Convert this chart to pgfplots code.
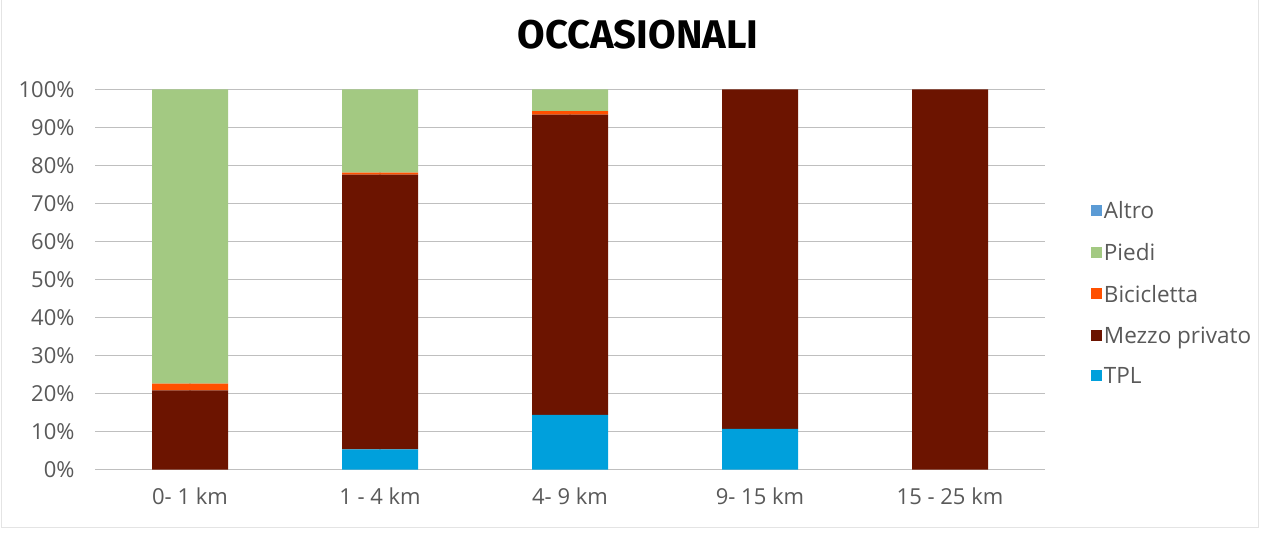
\documentclass[border=0pt]{standalone}
\usepackage{pgfplots}
\pgfplotsset{compat=1.18}
\usepackage{fontspec}
\setmainfont{Open Sans}
\newfontfamily\titlefont{Fira Sans}
\definecolor{tpl}{RGB}{0,160,220}
\definecolor{mezzo}{RGB}{108,20,0}
\definecolor{bici}{RGB}{255,80,0}
\definecolor{piedi}{RGB}{163,201,130}
\definecolor{altro}{RGB}{91,155,213}
\definecolor{txt}{RGB}{89,89,89}
\definecolor{grid}{RGB}{217,217,217}
\begin{document}
\begin{tikzpicture}[x=1pt,y=1pt]
\fill[white] (0,0) rectangle (1262,544);
\draw[grid!70,line width=1pt] (1.5,544) -- (1.5,17) -- (1258,17) -- (1258,544);
\begin{axis}[
  at={(95pt,75pt)}, anchor=south west,
  scale only axis, width=950pt, height=380pt,
  xmin=-0.5, xmax=4.5, ymin=0, ymax=100,
  ybar stacked, bar width=76pt,
  xtick={0,1,2,3,4},
  xticklabels={0- 1 km, 1 - 4 km, 4- 9 km, 9- 15 km, 15 - 25 km},
  ytick={0,10,...,100},
  yticklabel={\pgfmathprintnumber{\tick}\%},
  /pgf/number format/assume math mode=true,
  ymajorgrids, grid style={grid, line width=1.2pt},
  axis lines=left, axis line style={draw=none},
  major tick length=0pt,
  tick label style={font=\fontsize{22}{25}\selectfont, text=txt},
  yticklabel style={xshift=-17pt},
  xticklabel style={yshift=-15pt},
  legend style={at={(1.045,0.463)}, anchor=west, draw=none, fill=none,
    font=\fontsize{22.5}{25}\selectfont, text=txt, row sep=19pt,
    /tikz/every even column/.append style={column sep=0pt}},
  legend cell align=left,
  legend image code/.code={\fill[#1] (0pt,-5pt) rectangle (11pt,6pt);},
  reverse legend,
]
\addplot[fill=tpl, draw=none] coordinates {(0,0) (1,5.3) (2,14.4) (3,10.7) (4,0)};
\addlegendentry{TPL}
\addplot[fill=mezzo, draw=none] coordinates {(0,20.8) (1,72.3) (2,79.0) (3,89.3) (4,100)};
\addlegendentry{Mezzo privato}
\addplot[fill=bici, draw=none] coordinates {(0,1.8) (1,0.5) (2,0.9) (3,0) (4,0)};
\addlegendentry{Bicicletta}
\addplot[fill=piedi, draw=none] coordinates {(0,77.4) (1,21.9) (2,5.7) (3,0) (4,0)};
\addlegendentry{Piedi}
\addlegendimage{fill=altro, draw=none}
\addlegendentry{Altro}
\end{axis}
\node[font=\titlefont\bfseries\fontsize{40}{46}\selectfont, text=black] at (638,510) {OCCASIONALI};
\end{tikzpicture}
\end{document}
